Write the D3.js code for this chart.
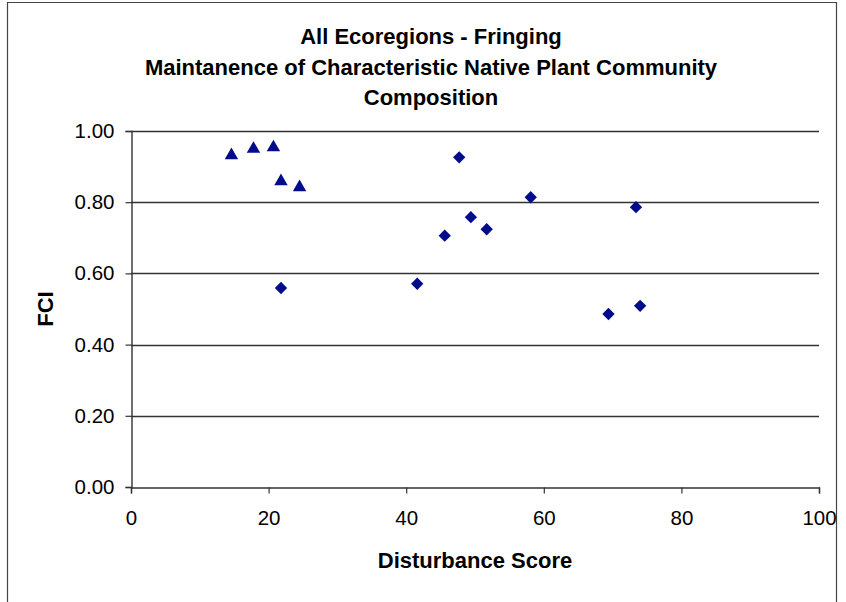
<!DOCTYPE html>
<html>
<head>
<meta charset="utf-8">
<script src="https://cdn.jsdelivr.net/npm/d3@7"></script>
<style>
  html, body { margin: 0; padding: 0; background: #fff; }
  svg { display: block; font-family: "Liberation Sans", Arial, sans-serif; }
</style>
</head>
<body>
<svg id="chart" width="846" height="602"></svg>
<script>
// ---- Data ----
const titleLines = ["All Ecoregions - Fringing", "Maintanence of Characteristic Native Plant Community", "Composition"];
const xLabel = "Disturbance Score";
const yLabel = "FCI";
const xTicks = [0, 20, 40, 60, 80, 100];
const yTicks = [0, 0.2, 0.4, 0.6, 0.8, 1.0];

// Series 1: triangles
const triX = [14.6, 17.8, 20.7, 21.8, 24.5];
const triY = [0.937, 0.955, 0.959, 0.864, 0.847];
// Series 2: diamonds
const diaX = [47.7, 49.4, 45.6, 21.8, 41.6, 58.1, 51.7, 73.4, 69.4, 74.0];
const diaY = [0.926, 0.758, 0.706, 0.559, 0.571, 0.814, 0.724, 0.786, 0.486, 0.509];

const markColor = "#000C8C";

const svg = d3.select("#chart");
const W = 846, H = 602;
const plot = { left: 131, right: 819, top: 131, bottom: 487 };

// Outer frame
svg.append("path")
  .attr("d", `M7.5,${H} L7.5,2.5 L836.5,2.5 L836.5,${H}`)
  .attr("fill", "none").attr("stroke", "#444").attr("stroke-width", 1.2);

const x = d3.scaleLinear().domain([0, 100]).range([plot.left, plot.right]);
const y = d3.scaleLinear().domain([0, 1]).range([plot.bottom, plot.top]);

// Gridlines
svg.append("g").selectAll("line").data(yTicks.filter(d => d > 0)).join("line")
  .attr("x1", plot.left).attr("x2", plot.right)
  .attr("y1", d => Math.round(y(d)) + 0.5).attr("y2", d => Math.round(y(d)) + 0.5)
  .attr("stroke", "#333").attr("stroke-width", 1.4);

const tickFont = 20.5;

// Y axis
const yAxis = d3.axisLeft(y).tickValues(yTicks).tickFormat(d3.format(".2f")).tickSize(6).tickPadding(11);
const gy = svg.append("g").attr("transform", `translate(${plot.left + 0.5},0)`).call(yAxis);
gy.select(".domain").attr("stroke", "#333").attr("stroke-width", 1.4);
gy.selectAll(".tick line").attr("stroke", "#333").attr("stroke-width", 1.2);
gy.selectAll(".tick text").attr("font-size", tickFont).attr("fill", "#000")
  .attr("font-family", "Liberation Sans, Arial, sans-serif");

// X axis
const xAxis = d3.axisBottom(x).tickValues(xTicks).tickSize(6).tickPadding(17);
const gx = svg.append("g").attr("transform", `translate(0,${plot.bottom + 0.5})`).call(xAxis);
gx.select(".domain").attr("stroke", "#333").attr("stroke-width", 1.4);
gx.selectAll(".tick line").attr("stroke", "#333").attr("stroke-width", 1.2);
gx.selectAll(".tick text").attr("font-size", tickFont).attr("fill", "#000")
  .attr("font-family", "Liberation Sans, Arial, sans-serif");

// Markers
const diamond = d3.symbol().type(d3.symbolSquare).size(76);
svg.append("g").selectAll("path").data(diaX.map((v, i) => [v, diaY[i]])).join("path")
  .attr("d", diamond)
  .attr("transform", d => `translate(${x(d[0])},${y(d[1])}) rotate(45)`)
  .attr("fill", markColor);

const tri = d3.symbol().type(d3.symbolTriangle).size(78);
svg.append("g").selectAll("path").data(triX.map((v, i) => [v, triY[i]])).join("path")
  .attr("d", tri)
  .attr("transform", d => `translate(${x(d[0])},${y(d[1]) + 1.9})`)
  .attr("fill", markColor);

// Title
svg.append("g").selectAll("text").data(titleLines).join("text")
  .attr("x", 431).attr("y", (d, i) => 44 + i * 30.5)
  .attr("text-anchor", "middle").attr("font-size", 22).attr("font-weight", "bold")
  .text(d => d);

// Axis titles
svg.append("text").attr("x", x(50)).attr("y", 568)
  .attr("text-anchor", "middle").attr("font-size", 22).attr("font-weight", "bold")
  .text(xLabel);
svg.append("text").attr("transform", `translate(53,${(plot.top + plot.bottom) / 2}) rotate(-90)`)
  .attr("text-anchor", "middle").attr("font-size", 22).attr("font-weight", "bold")
  .text(yLabel);
</script>
</body>
</html>
